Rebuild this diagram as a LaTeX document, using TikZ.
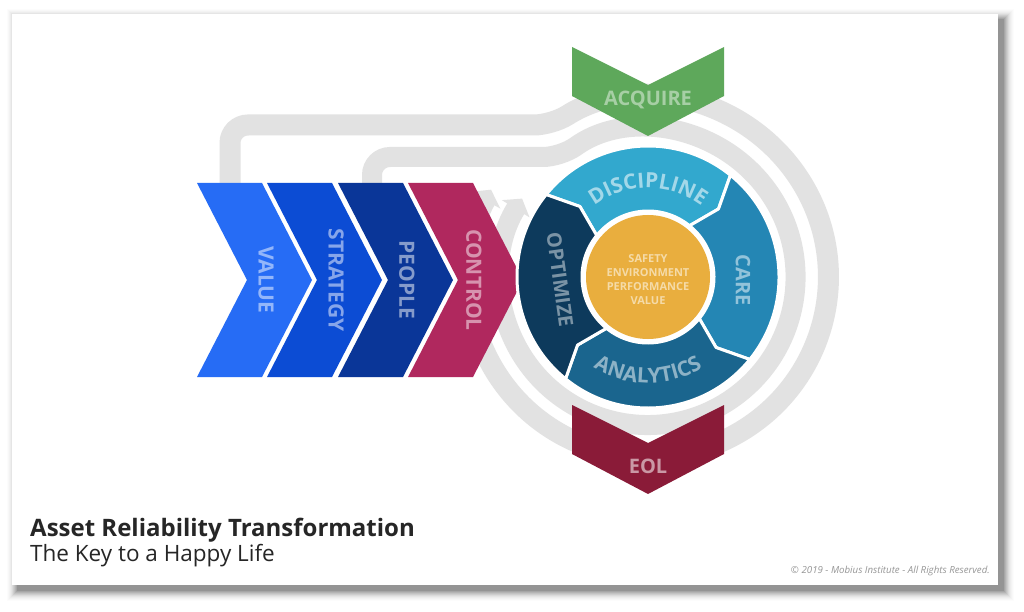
\documentclass[tikz,border=0pt]{standalone}
\usepackage{fontspec}
\setmainfont{Open Sans}
\usetikzlibrary{arrows.meta,decorations.text}
\definecolor{pipe}{RGB}{226,226,226}
\definecolor{cvalue}{RGB}{38,108,245}
\definecolor{cstrat}{RGB}{12,76,212}
\definecolor{cpeople}{RGB}{10,54,152}
\definecolor{ccontrol}{RGB}{176,40,94}
\definecolor{cacq}{RGB}{94,168,91}
\definecolor{ceol}{RGB}{138,27,56}
\definecolor{cdisc}{RGB}{50,168,206}
\definecolor{ccare}{RGB}{36,134,180}
\definecolor{canal}{RGB}{26,101,142}
\definecolor{copt}{RGB}{13,58,92}
\definecolor{corange}{RGB}{233,174,62}
\definecolor{ctitle}{RGB}{38,38,38}
\definecolor{ccopy}{RGB}{150,150,150}
\colorlet{tdisc}{white!55!cdisc}
\colorlet{tanal}{white!50!canal}
\newcommand\hchev[2]{\fill[#2] (#1,183) -- ++(65,0) -- ++(50,97) -- ++(-50,97) -- ++(-65,0) -- ++(50,-97) -- cycle;}
\newcommand\vchev[2]{\fill[#2] (572,#1) -- ++(76,38) -- ++(76,-38) -- ++(0,49) -- ++(-76,40) -- ++(-76,-40) -- cycle;}
\newcommand\ringseg[3]{\filldraw[fill=#3,draw=white,line width=3,line join=round] (#1:131) arc[start angle=#1, end angle=#2, radius=131] -- ({#2+7}:98) -- (#2:66) arc[start angle=#2, end angle=#1, radius=66] -- ({#1+7}:98) -- cycle;}
\begin{document}
\begin{tikzpicture}[x=1pt,y=-1pt,
  chevlabel/.style={font=\fontsize{21}{21}\selectfont\bfseries, rotate=-90, inner sep=0},
  vlabel/.style={font=\fontsize{20}{20}\selectfont\bfseries, inner sep=0},
  pipeline/.style={draw=pipe, line width=#1, rounded corners=18},
]
\useasboundingbox (0,0) rectangle (1024,612);
\fill[white] (0,0) rectangle (1024,612);
% slide shadow
\foreach \i/\o in {1/0.10,2/0.08,3/0.07,4/0.06,5/0.05,6/0.04,7/0.03,8/0.025,9/0.02,10/0.015,11/0.01}
  \fill[black,opacity=\o] (18-\i,20-\i) rectangle (1003+\i,590+\i);
\fill[white] (12,14) rectangle (998,585);

% grey pipes
\draw[pipeline=21, -{Triangle[length=12pt,width=34pt]}] (230,200) -- (230,125) -- (552,125)
   arc[start angle=237.6, end angle=569, radius=180];
\draw[pipeline=20, -{Triangle[length=12pt,width=32pt]}] (372,200) -- (372,157) -- (561,157)
   arc[start angle=234.2, end angle=572, radius=148];

% left chevrons
\hchev{197}{cvalue}
\hchev{267}{cstrat}
\hchev{338}{cpeople}
\hchev{408}{ccontrol}
\node[chevlabel, text=white!50!cvalue] (value) at (266,280) {VALUE};
\node[chevlabel, text=white!50!cstrat] (strategy) at (336,280) {STRATEGY};
\node[chevlabel, text=white!50!cpeople] (people) at (407,280) {PEOPLE};
\node[chevlabel, text=white!50!ccontrol] (control) at (474,280) {CONTROL};

% ring
\begin{scope}[shift={(648,277)}]
  \ringseg{219}{309}{cdisc}
  \ringseg{309}{399}{ccare}
  \ringseg{399}{489}{canal}
  \ringseg{129}{219}{copt}
  \fill[corange] (0,0) circle[radius=62];
  \path[decorate, decoration={text along path, text align=center,
     text={|\fontsize{21}{21}\selectfont\bfseries\color{tdisc}|DISCIPLINE}}]
     (195:89) arc[start angle=195, end angle=345, radius=89];
  \path[decorate, decoration={text along path, text align=center,
     text={|\fontsize{21}{21}\selectfont\bfseries\color{tanal}|ANALYTICS}}]
     (160:106) arc[start angle=160, end angle=20, radius=106];
\end{scope}
\node[vlabel, rotate=-90, text=white!50!ccare] (care) at (743,280) {CARE};
\node[vlabel, rotate=-82, text=white!45!copt] (optimize) at (560,280) {OPTIMIZE};
\node[font=\fontsize{11}{14}\selectfont\bfseries, align=center, text=white!55!corange, inner sep=0] (core) at (648,280)
  {SAFETY\\ENVIRONMENT\\PERFORMANCE\\VALUE};

% acquire / eol
\vchev{47}{cacq}
\vchev{405}{ceol}
\node[vlabel, text=white!45!cacq] (acquire) at (648,100) {ACQUIRE};
\node[vlabel, text=white!55!ceol] (eol) at (648,466) {EOL};

% titles
\node[anchor=base west, inner sep=0, font=\fontsize{24}{24}\selectfont\bfseries, text=ctitle] (title) at (30,536) {Asset Reliability Transformation};
\node[anchor=base west, inner sep=0, font=\fontsize{22.5}{23}\selectfont, text=ctitle] (subtitle) at (30,561) {The Key to a Happy Life};
\node[anchor=base east, inner sep=0, font=\fontsize{9.7}{10}\selectfont\itshape, text=ccopy] (copy) at (990,573) {© 2019 - Mobius Institute - All Rights Reserved.};
\end{tikzpicture}
\end{document}
